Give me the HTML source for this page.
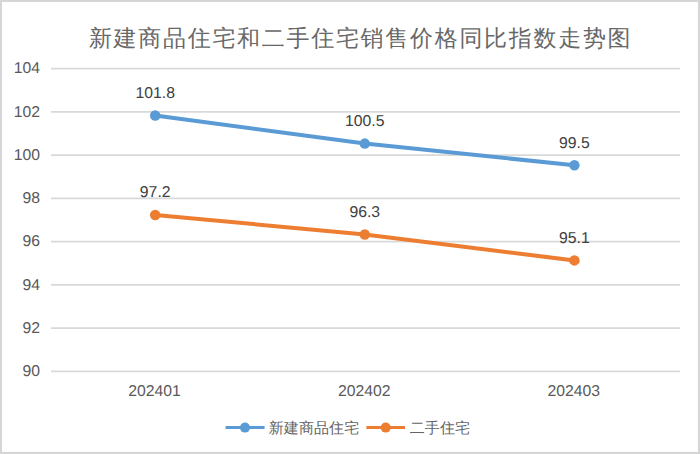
<!DOCTYPE html>
<html><head><meta charset="utf-8"><style>
html,body{margin:0;padding:0;background:#fff;}
body{width:700px;height:454px;overflow:hidden;position:relative;}
svg{position:absolute;left:0;top:0;text-rendering:geometricPrecision;}
.t{font-family:"Liberation Serif",serif;}
.s{font-family:"Liberation Sans",sans-serif;}
</style></head><body>
<svg width="700" height="454" viewBox="0 0 700 454">
<g fill="#d6d6d6" shape-rendering="geometricPrecision"><rect x="0" y="0" width="700" height="2"/><rect x="0" y="0" width="2" height="454"/><rect x="697.9" y="0" width="2.1" height="454"/><rect x="0" y="451.9" width="700" height="2.1"/></g>
<g stroke="#d9d9d9" stroke-width="1.8"><line x1="51" y1="68.60" x2="680" y2="68.60"/><line x1="51" y1="111.86" x2="680" y2="111.86"/><line x1="51" y1="155.12" x2="680" y2="155.12"/><line x1="51" y1="198.38" x2="680" y2="198.38"/><line x1="51" y1="241.64" x2="680" y2="241.64"/><line x1="51" y1="284.90" x2="680" y2="284.90"/><line x1="51" y1="328.16" x2="680" y2="328.16"/><line x1="51" y1="371.42" x2="680" y2="371.42"/></g>
<g class="s" font-size="15.75" fill="#595959" text-anchor="end"><text x="40.1" y="73.40">104</text><text x="40.1" y="116.66">102</text><text x="40.1" y="159.92">100</text><text x="40.1" y="203.18">98</text><text x="40.1" y="246.44">96</text><text x="40.1" y="289.70">94</text><text x="40.1" y="332.96">92</text><text x="40.1" y="376.22">90</text></g>
<g class="s" font-size="15.75" fill="#595959" text-anchor="middle"><text x="154.60" y="395.5">202401</text><text x="364.20" y="395.5">202402</text><text x="573.80" y="395.5">202403</text></g>
<g class="s" font-size="15.75" fill="#404040" text-anchor="middle"><polyline points="155.2,115.49 364.8,143.60 574.4,165.23" fill="none" stroke="#5b9bd5" stroke-width="4" stroke-linejoin="round" stroke-linecap="round"/><circle cx="155.2" cy="115.49" r="5.25" fill="#5b9bd5"/><circle cx="364.8" cy="143.60" r="5.25" fill="#5b9bd5"/><circle cx="574.4" cy="165.23" r="5.25" fill="#5b9bd5"/><text x="155.2" y="97.99">101.8</text><text x="364.8" y="126.10">100.5</text><text x="574.4" y="147.73">99.5</text></g>
<g class="s" font-size="15.75" fill="#404040" text-anchor="middle"><polyline points="155.2,214.98 364.8,234.45 574.4,260.41" fill="none" stroke="#ed7d31" stroke-width="4" stroke-linejoin="round" stroke-linecap="round"/><circle cx="155.2" cy="214.98" r="5.25" fill="#ed7d31"/><circle cx="364.8" cy="234.45" r="5.25" fill="#ed7d31"/><circle cx="574.4" cy="260.41" r="5.25" fill="#ed7d31"/><text x="155.2" y="197.48">97.2</text><text x="364.8" y="216.95">96.3</text><text x="574.4" y="242.91">95.1</text></g>
<text class="t" x="360.6" y="46" font-size="23" letter-spacing="1.7" fill="#686868" text-anchor="middle">新建商品住宅和二手住宅销售价格同比指数走势图</text>
<line x1="225.6" y1="427.6" x2="264.6" y2="427.6" stroke="#5b9bd5" stroke-width="3"/>
<circle cx="245" cy="427.6" r="5" fill="#5b9bd5"/>
<text class="t" x="268.7" y="433" font-size="15" letter-spacing="0.1" fill="#636363">新建商品住宅</text>
<line x1="366.4" y1="427.6" x2="405" y2="427.6" stroke="#ed7d31" stroke-width="3"/>
<circle cx="385.7" cy="427.6" r="5" fill="#ed7d31"/>
<text class="t" x="409.7" y="433" font-size="15" letter-spacing="0.1" fill="#636363">二手住宅</text>
</svg>
</body></html>
